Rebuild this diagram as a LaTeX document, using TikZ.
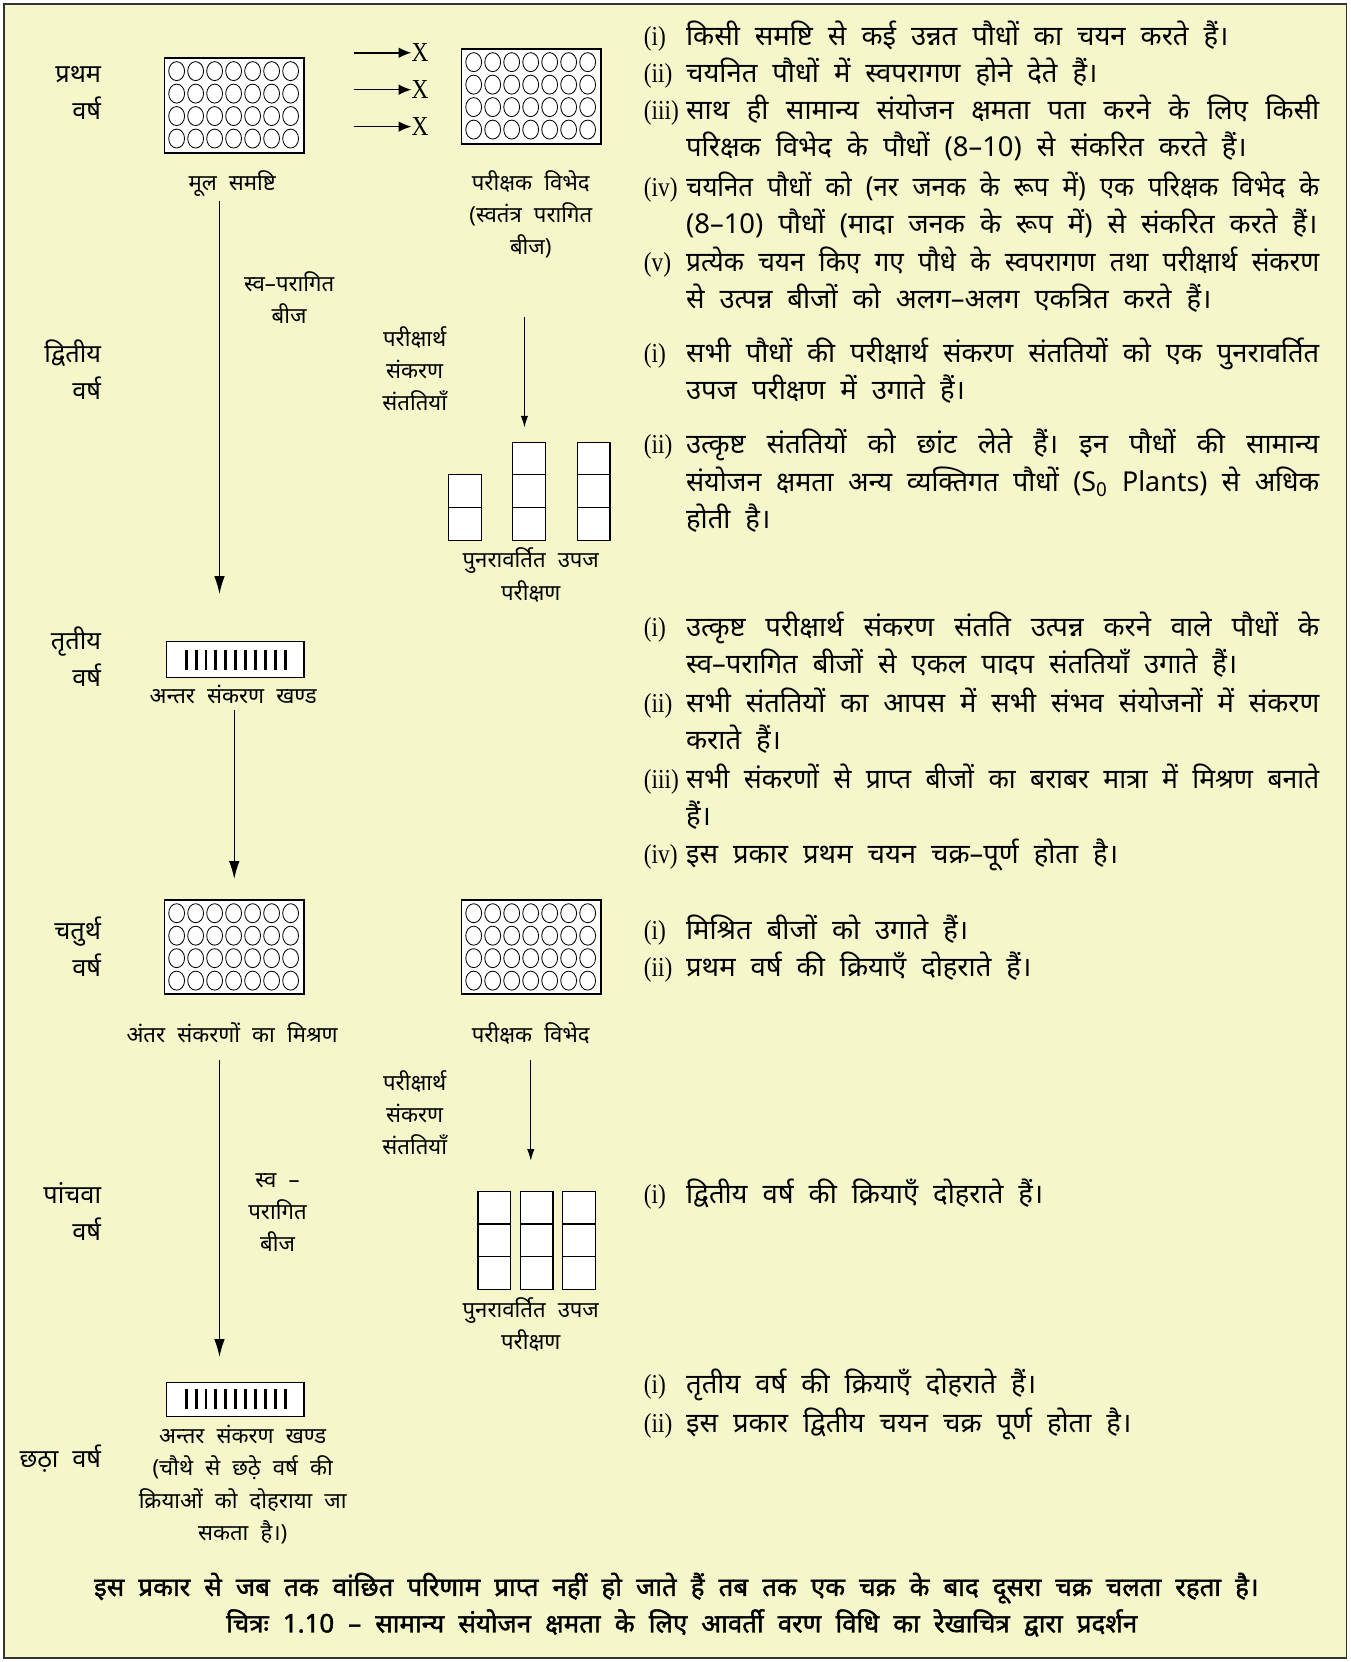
\documentclass[tikz,border=0pt]{standalone}
\usepackage{fontspec}
\usepackage{graphicx}
\setmainfont{Noto Sans}[Script=Devanagari,WordSpace=2.1]
\newfontfamily\capfont{Noto Sans}[Script=Devanagari,WordSpace=2.1,FakeBold=1.6]
\newfontfamily\numfont{Liberation Serif}[FakeStretch=0.85]
\usetikzlibrary{arrows.meta,positioning,calc}
\definecolor{paper}{RGB}{245,247,202}
\newsavebox{\jlbox}
\newcommand{\jl}[1]{\sbox{\jlbox}{#1}\ifdim\wd\jlbox>600pt\resizebox{600pt}{\height}{\usebox{\jlbox}}\else\makebox[600pt][s]{#1}\fi}
\newcommand{\itemno}[1]{\makebox[40pt][l]{\numfont #1}}
\newcommand{\itemind}{\hspace*{40pt}}
\newcommand{\hstrut}{\rule{0pt}{28pt}}
\newcommand{\lstrut}{\rule{0pt}{24pt}}

\begin{document}
\begin{tikzpicture}[x=1pt,y=-1pt,
	txt/.style={font=\fontsize{26}{35.5}\selectfont, align=left, anchor=north west, inner sep=0pt},
	yr/.style={font=\fontsize{24}{35}\selectfont, align=right, anchor=north east, inner sep=0pt},
	lbl/.style={font=\fontsize{21}{30.5}\selectfont, align=center, anchor=north, inner sep=0pt},
	field/.style={draw, fill=white, line width=1.2pt, minimum width=132pt, minimum height=90pt, inner sep=0pt},
	block/.style={draw, fill=white, line width=1.2pt, minimum width=130pt, minimum height=34pt, inner sep=0pt},
	cell/.style={draw, fill=white, line width=1.2pt},
	tip/.style={-{Latex[length=17pt,width=10pt]}, line width=1.3pt},
	smalltip/.style={-{Latex[length=11pt,width=7pt]}, line width=1pt}]
	\useasboundingbox (0,0) rectangle (1280,1575);
	\draw[line width=1.5pt, draw=black!80, fill=paper] (4,4) rectangle (1276,1571);

	% years
	\node[yr] (y1) at (96,50) {\hstrut प्रथम\\वर्ष};
	\node[yr] (y2) at (96,315) {\hstrut द्वितीय\\वर्ष};
	\node[yr] (y3) at (96,587) {\hstrut तृतीय\\वर्ष};
	\node[yr] (y4) at (96,862) {\hstrut चतुर्थ\\वर्ष};
	\node[yr] (y5) at (96,1112) {\hstrut पांचवा\\वर्ष};
	\node[yr] (y6) at (96,1362) {\hstrut छठ़ा वर्ष};

	% fields of plants
	\node[field] (f1) at (222,100) {};
	\node[field] (f2) at (503.5,91.5) {};
	\node[field, minimum height=89pt] (f3) at (222,897.5) {};
	\node[field, minimum height=89pt] (f4) at (503.5,897.5) {};
	\foreach \f in {f1,f2,f3,f4}
		\foreach \i in {0,...,6}
			\foreach \j in {0,...,3}
				\draw[line width=0.8pt] ($(\f.north west)+(12+18*\i,13+21.3*\j)$) ellipse [x radius=7.5, y radius=9];

	% crosses
	\foreach \k/\yy in {1/50,2/85,3/120} {
		\node[font=\fontsize{26}{26}\selectfont\numfont, inner sep=0pt] (x\k) at (398,\yy) {X};
		\coordinate (a\k) at (335,\yy);
		\draw[-{Latex[length=12pt,width=10pt]}, line width=1.4pt] (a\k) -- (x\k.west);
	}

	\node[lbl] (l1) at (220,156) {\lstrut मूल समष्टि};
	\node[lbl] (l2) at (503,156) {\lstrut परीक्षक विभेद\\(स्वतंत्र परागित\\बीज)};
	\node[lbl] (l3) at (274,252) {\lstrut स्व–परागित\\बीज};
	\node[lbl] (l4) at (393,304) {\lstrut परीक्षार्थ\\संकरण\\संततियाँ};

	% yield trial, second year
	\foreach \c/\xx/\n in {1/425/2,2/486/3,3/547/3}
		\foreach \r in {1,...,\n}
			\draw[cell] (\xx,512-31*\r+31) rectangle ++(31,-31);
	\node[lbl] (l5) at (503,514) {\lstrut पुनरावर्तित उपज\\परीक्षण};

	% intercross blocks
	\node[block] (b1) at (223,625) {};
	\node[block, minimum height=32pt] (b2) at (223,1326) {};
	\foreach \b in {b1,b2}
		\foreach \i in {0,...,10}
			\draw[line width=2.8pt] ($(\b.west)+(19+9.4*\i,-9.5)$) -- ++(0,19);
	\node[lbl] (l6) at (221,642) {\lstrut अन्तर संकरण खण्ड};

	\node[lbl] (l7) at (220,964) {\lstrut अंतर संकरणों का मिश्रण};
	\node[lbl] (l8) at (503,964) {\lstrut परीक्षक विभेद};
	\node[lbl] (l9) at (393,1009) {\lstrut परीक्षार्थ\\संकरण\\संततियाँ};
	\node[lbl] (l10) at (263,1101) {\lstrut स्व –\\परागित\\बीज};

	% yield trial, fifth year
	\foreach \xx in {453,493,533}
		\foreach \r in {1,2,3}
			\draw[cell] (\xx,1222-31*\r+31) rectangle ++(31,-31);
	\node[lbl] (l11) at (503,1224) {\lstrut पुनरावर्तित उपज\\परीक्षण};
	\node[lbl] (l12) at (230,1344) {\lstrut अन्तर संकरण खण्ड\\(चौथे से छठ़े वर्ष की\\क्रियाओं को दोहराया जा\\सकता है।)};

	% arrows
	\coordinate (e1) at (208,563);
	\coordinate (e2) at (497,405);
	\coordinate (e3) at (222,833);
	\coordinate (e4) at (503,1100);
	\coordinate (e5) at (208,1286);
	\draw[tip] (l1.south -| e1) ++(0,4) -- (e1);
	\draw[smalltip] (497,300) -- (e2);
	\draw[tip] (l6.south -| e3) ++(0,6) -- (e3);
	\draw[smalltip] (l8.south) ++(0,14) -- (e4);
	\draw[tip] (l7.south -| e5) ++(0,16) -- (e5);

	% steps, first year
	\node[txt] (p1a) at (610,15) {\hstrut\itemno{(i)}किसी समष्टि से कई उन्नत पौधों का चयन करते हैं।};
	\node[txt] (p1b) at (610,50) {\hstrut\itemno{(ii)}चयनित पौधों में स्वपरागण होने देते हैं।};
	\node[txt] (p1c) at (610,85) {\hstrut\itemno{(iii)}\jl{साथ ही सामान्य संयोजन क्षमता पता करने के लिए किसी}\\\itemind परिक्षक विभेद के पौधों (8–10) से संकरित करते हैं।};
	\node[txt] (p1d) at (610,158) {\hstrut\itemno{(iv)}\jl{चयनित पौधों को (नर जनक के रूप में) एक परिक्षक विभेद के}\\\itemind (8–10) पौधों (मादा जनक के रूप में) से संकरित करते हैं।};
	\node[txt] (p1e) at (610,229) {\hstrut\itemno{(v)}\jl{प्रत्येक चयन किए गए पौधे के स्वपरागण तथा परीक्षार्थ संकरण}\\\itemind से उत्पन्न बीजों को अलग–अलग एकत्रित करते हैं।};

	% steps, second year
	\node[txt] (p2a) at (610,315) {\hstrut\itemno{(i)}\jl{सभी पौधों की परीक्षार्थ संकरण संततियों को एक पुनरावर्तित}\\\itemind उपज परीक्षण में उगाते हैं।};
	\node[txt] (p2b) at (610,402) {\hstrut\itemno{(ii)}\jl{उत्कृष्ट संततियों को छांट लेते हैं। इन पौधों की सामान्य}\\\itemind\jl{संयोजन क्षमता अन्य व्यक्तिगत पौधों (S\textsubscript{0} Plants) से अधिक}\\\itemind होती है।};

	% steps, third year
	\node[txt] (p3a) at (610,575) {\hstrut\itemno{(i)}\jl{उत्कृष्ट परीक्षार्थ संकरण संतति उत्पन्न करने वाले पौधों के}\\\itemind स्व–परागित बीजों से एकल पादप संततियाँ उगाते हैं।};
	\node[txt] (p3b) at (610,647) {\hstrut\itemno{(ii)}\jl{सभी संततियों का आपस में सभी संभव संयोजनों में संकरण}\\\itemind कराते हैं।};
	\node[txt] (p3c) at (610,719) {\hstrut\itemno{(iii)}\jl{सभी संकरणों से प्राप्त बीजों का बराबर मात्रा में मिश्रण बनाते}\\\itemind हैं।};
	\node[txt] (p3d) at (610,790) {\hstrut\itemno{(iv)}इस प्रकार प्रथम चयन चक्र–पूर्ण होता है।};

	% steps, fourth to sixth year
	\node[txt] (p4a) at (610,862) {\hstrut\itemno{(i)}मिश्रित बीजों को उगाते हैं।};
	\node[txt] (p4b) at (610,897) {\hstrut\itemno{(ii)}प्रथम वर्ष की क्रियाएँ दोहराते हैं।};
	\node[txt] (p5a) at (610,1112) {\hstrut\itemno{(i)}द्वितीय वर्ष की क्रियाएँ दोहराते हैं।};
	\node[txt] (p6a) at (610,1292) {\hstrut\itemno{(i)}तृतीय वर्ष की क्रियाएँ दोहराते हैं।};
	\node[txt] (p6b) at (610,1329) {\hstrut\itemno{(ii)}इस प्रकार द्वितीय चयन चक्र पूर्ण होता है।};

	% caption
	\node[font=\fontsize{24.5}{24.5}\selectfont\capfont, inner sep=0pt] (c1) at (641,1505) {इस प्रकार से जब तक वांछित परिणाम प्राप्त नहीं हो जाते हैं तब तक एक चक्र के बाद दूसरा चक्र चलता रहता है।};
	\node[font=\fontsize{24.5}{24.5}\selectfont\capfont, inner sep=0pt] (c2) at (646,1538) {चित्रः 1.10 – सामान्य संयोजन क्षमता के लिए आवर्ती वरण विधि का रेखाचित्र द्वारा प्रदर्शन};
\end{tikzpicture}
\end{document}
